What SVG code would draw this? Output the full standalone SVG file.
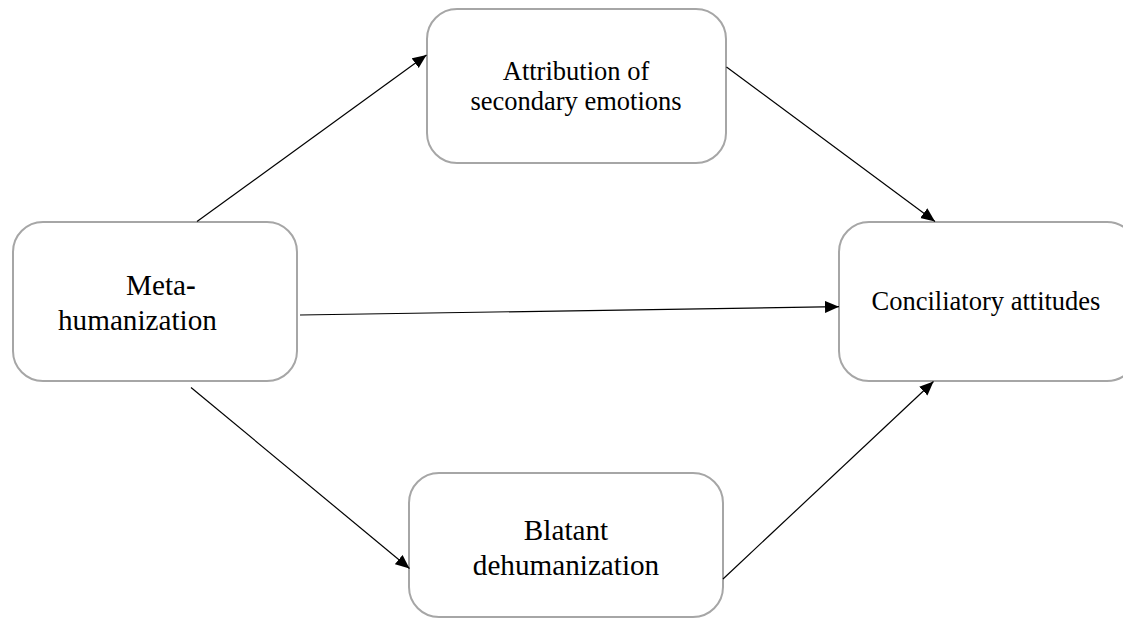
<svg xmlns="http://www.w3.org/2000/svg" width="1123" height="619" viewBox="0 0 1123 619">
<style>
.box{fill:#fff;stroke:#a6a6a6;stroke-width:2}
.lbl{font-family:"Liberation Serif","Times New Roman",serif;fill:#000}
.big{font-size:29.2px}
.sm{font-size:26.5px}
.edge{stroke:#000;stroke-width:1.2;fill:none;marker-end:url(#ah)}
</style>
<defs>
<marker id="ah" markerUnits="userSpaceOnUse" markerWidth="15" markerHeight="13" refX="14" refY="6" orient="auto" viewBox="0 0 15 13">
<path d="M0,0 L14,6 L0,12 Z" fill="#000"/>
</marker>
</defs>
<rect width="1123" height="619" fill="#fff"/>
<g id="n-meta">
<rect class="box" x="13" y="222" width="284" height="159" rx="30"/>
<text class="lbl big" x="126" y="295">Meta<tspan font-weight="bold">-</tspan></text>
<text class="lbl big" x="58" y="330">humanization</text>
</g>
<g id="n-attr">
<rect class="box" x="427" y="9" width="299" height="154" rx="30"/>
<text class="lbl sm" x="576" y="80" text-anchor="middle">Attribution of</text>
<text class="lbl sm" x="576" y="110" text-anchor="middle">secondary emotions</text>
</g>
<g id="n-conc">
<rect class="box" x="839" y="222" width="298" height="159" rx="30"/>
<text class="lbl sm" x="986" y="310" text-anchor="middle">Conciliatory attitudes</text>
</g>
<g id="n-blat">
<rect class="box" x="409" y="473" width="314" height="144" rx="30"/>
<text class="lbl big" x="566" y="540" text-anchor="middle">Blatant</text>
<text class="lbl big" x="566" y="575" text-anchor="middle">dehumanization</text>
</g>
<g id="connectors">
<line class="edge" x1="197" y1="221.5" x2="426.5" y2="55"/>
<line class="edge" x1="726.5" y1="67" x2="935" y2="221.5"/>
<line class="edge" x1="300" y1="315" x2="839" y2="306.7"/>
<line class="edge" x1="191" y1="387.5" x2="409.5" y2="568.5"/>
<line class="edge" x1="723" y1="579" x2="933.5" y2="381.5"/>
</g>
</svg>
